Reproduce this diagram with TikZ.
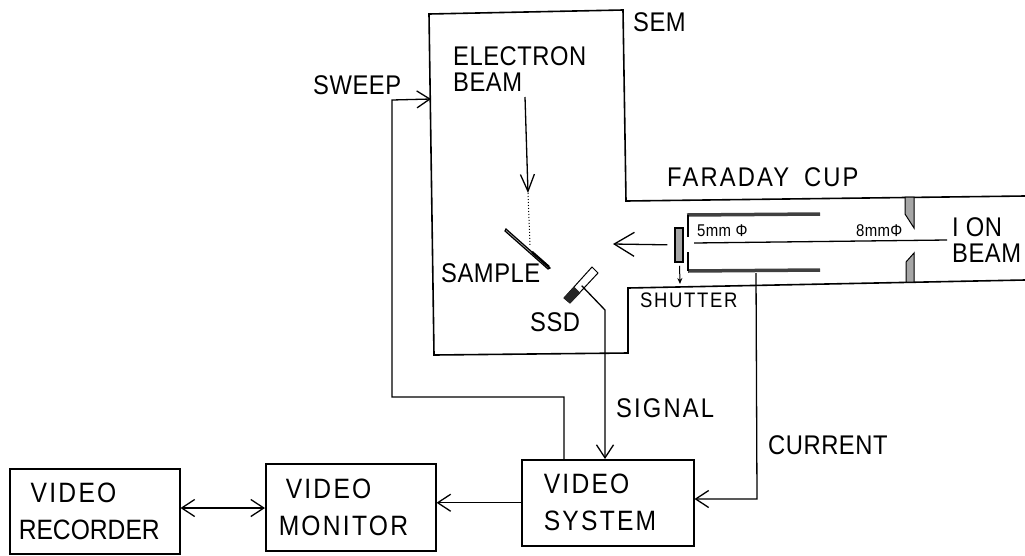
\documentclass[tikz,border=0pt]{standalone}
\usepackage{fontspec}
\setmainfont{Liberation Sans}[FakeStretch=0.88,LetterSpace=2]
\newfontfamily\spaced{Liberation Sans}[FakeStretch=0.88,LetterSpace=8]
\newfontfamily\tight{Liberation Sans}[FakeStretch=0.88]
\usetikzlibrary{arrows.meta}
\tikzset{
  lab/.style={anchor=west,inner sep=0pt,align=left,font=\fontsize{27}{33}\selectfont},
  smalllab/.style={anchor=west,inner sep=0pt,font=\fontsize{17}{20}\selectfont},
  box/.style={draw,line width=1.5pt,anchor=north west,inner ysep=0pt,align=left,font=\fontsize{28}{37}\selectfont\tight},
  wall/.style={line width=1.6pt,line join=miter},
  wire/.style={line width=1.3pt},
  arr/.style={-{Straight Barb[length=13pt,width=17pt,line width=1.3pt]},line width=1.3pt},
  barr/.style={{Straight Barb[length=13pt,width=17pt,line width=1.3pt]}-{Straight Barb[length=13pt,width=17pt,line width=1.3pt]},line width=1.3pt},
  cupbar/.style={line width=3.5pt,draw=black!75},
  lip/.style={fill=black!35,draw=black,line width=1pt},
}
\begin{document}
\begin{tikzpicture}[x=1pt,y=-1pt]
  \useasboundingbox (0,0) rectangle (1025,555);
  % chamber outline
  \draw[wall] (1025,196) -- (626,201) -- (623,10) -- (429,14) -- (434,355) -- (628,353) -- (628,288) -- (1025,280);
  % boxes
  \node[box,minimum height=85pt,inner xsep=9pt,text width=152pt] (rec) at (9,468) {\hspace*{12pt}{\spaced VIDEO}\\RECORDER};
  \node[box,minimum height=87pt,inner xsep=13pt,text width=144pt] (mon) at (265,463) {\hspace*{7pt}{\spaced VIDEO}\\{\spaced MONITOR}};
  \node[box,minimum height=86pt,inner xsep=22pt,text width=128pt] (sys) at (521,459) {{\spaced VIDEO}\\{\spaced SYSTEM}};
  % labels
  \node[lab] (sem) at (633,22) {SEM};
  \node[lab] (ebeam) at (453,69) {ELECTRON\\[-7pt]BEAM};
  \node[lab] (sweep) at (313,85) {SWEEP};
  \node[lab,font=\fontsize{27}{33}\selectfont\spaced] (cup) at (667,177) {FARADAY\hspace{6pt} CUP};
  \node[lab] (ion) at (952,240) {I ON\\[-7pt]BEAM};
  \node[lab] (samp) at (441,273) {SAMPLE};
  \node[lab] (ssdl) at (530,322) {SSD};
  \node[lab,font=\fontsize{21}{25}\selectfont\spaced] (shut) at (640,300) {SHUTTER};
  \node[lab,font=\fontsize{27}{33}\selectfont\spaced] (sig) at (616,408) {SIGNAL};
  \node[lab] (cur) at (768,445) {CURRENT};
  \node[smalllab] (five) at (697,231) {5mm Φ};
  \node[smalllab] (eight) at (856,231) {8mmΦ};
  % faraday cup
  \draw[cupbar] (687,215) -- (820,214);
  \draw[cupbar] (688,271) -- (820,270);
  \draw[line width=2pt] (688,215) -- (688,237);
  \draw[line width=2pt] (688,252) -- (688,271);
  \filldraw[lip] (905,197) -- (905,214) -- (914,228) -- (914,197) -- cycle;
  \filldraw[lip] (906,282) -- (906,262) -- (914,253) -- (914,282) -- cycle;
  % shutter
  \node[draw,fill=black!35,line width=1.5pt,minimum width=8pt,minimum height=34pt,inner sep=0pt] (shutter) at (679,245) {};
  \coordinate (shutb) at (680,284);
  \draw[-{Stealth[length=6pt,width=5pt]},line width=1pt,shorten <=3pt] (shutter) -- (shutb);
  % ion beam
  \coordinate (ionr) at (947,240);
  \coordinate (ionl) at (694,243);
  \coordinate (ionhead) at (613,244);
  \draw[wire] (ionr) -- (ionl);
  \draw[-{Straight Barb[length=20pt,width=24pt,line width=1.3pt]},line width=1.3pt,shorten <=7pt] (shutter) -- (ionhead);
  % electron beam
  \coordinate (ebtop) at (525,97);
  \coordinate (ebtip) at (528,193);
  \coordinate (ebend) at (530,245);
  \draw[-{Straight Barb[length=17pt,width=14pt,line width=1.3pt]},line width=1.3pt] (ebtop) -- (ebtip);
  \draw[line width=1pt,dotted] (ebtip) -- (ebend);
  % sample
  \draw[line width=1.2pt,fill=black!30] (506,229) -- (550,268) -- (548,269) -- (505,231) -- cycle;
  \draw[line width=2.5pt] (532,252) -- (549,267);
  % ssd
  \filldraw[fill=white,draw=black,line width=1pt] (564,298) -- (570,303) -- (598,273) -- (592,267) -- cycle;
  \filldraw[black!85] (564,298) -- (570,303) -- (580,293) -- (574,287) -- cycle;
  \node[inner sep=0pt] (ssd) at (581,285) {};
  % connectors
  \coordinate (swtop) at (564,397);
  \coordinate (swleft) at (392,397);
  \coordinate (swup) at (392,100);
  \coordinate (swtip) at (431,99);
  \draw[arr] (sys.north west -| swtop) -- (swtop) -- (swleft) -- (swup) -- (swtip);
  \coordinate (bend) at (605,310);
  \draw[arr] (ssd) -- (bend) -- (bend |- sys.north);
  \coordinate (curtop) at (756,273);
  \coordinate (curbot) at (757,499);
  \draw[arr] (curtop) -- (curbot) -- (curbot -| sys.east);
  \coordinate (sysl) at (sys.west);
  \draw[arr] (sysl) -- (sysl -| mon.east);
  \draw[barr] (rec.east |- 0,508) -- (mon.west |- 0,508);
\end{tikzpicture}
\end{document}
